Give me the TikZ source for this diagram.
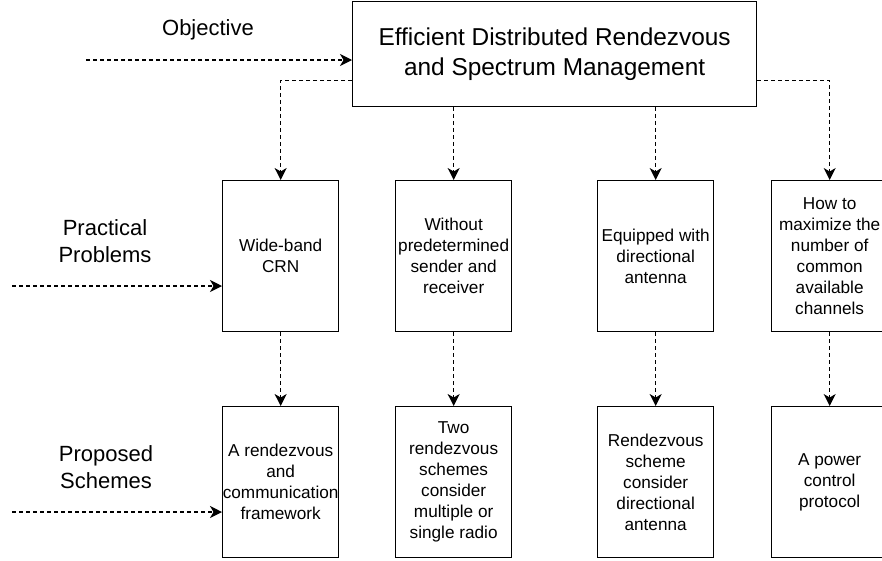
\documentclass[tikz,border=0pt]{standalone}
\usepackage{fontspec}
\setmainfont{Liberation Sans}
\usetikzlibrary{arrows.meta}
\begin{document}
\begin{tikzpicture}[x=1pt,y=-1pt,
  box/.style={draw=black, line width=1.3pt, minimum width=116pt, minimum height=151pt,
    inner sep=0pt, align=center, anchor=north west, font=\fontsize{17.2}{21}\selectfont},
  topbox/.style={draw=black, line width=1.3pt, minimum width=404pt, minimum height=105pt,
    inner sep=0pt, align=center, anchor=north west, font=\fontsize{24.4}{30}\selectfont},
  lab/.style={align=center, inner sep=0pt, font=\fontsize{22}{27}\selectfont},
  conn/.style={draw=black, line width=1.3pt, dash pattern=on 4pt off 3pt,
    -{Stealth[length=12pt,width=12pt,inset=3.5pt]}}
]
\useasboundingbox (0,0) rectangle (882,560);

% top box
\node[topbox] (top) at (352,0.6) {Efficient Distributed Rendezvous\\and Spectrum Management};

% row 2: practical problems
\node[box] (p1) at (222,180) {Wide-band\\CRN};
\node[box] (p2) at (395,180) {Without\\predetermined\\sender and\\receiver};
\node[box] (p3) at (597,180) {Equipped with\\directional\\antenna};
\node[box] (p4) at (771,180) {How to\\maximize the\\number of\\common\\available\\channels};

% row 3: proposed schemes
\node[box] (s1) at (222,406) {A rendezvous\\and\\communication\\framework};
\node[box] (s2) at (395,406) {Two\\rendezvous\\schemes\\consider\\multiple or\\single radio};
\node[box] (s3) at (597,406) {Rendezvous\\scheme\\consider\\directional\\antenna};
\node[box] (s4) at (771,406) {A power\\control\\protocol};

% side labels
\node[lab] (objl) at (208,30) {Objective};
\node[lab] (ppl) at (105,241) {Practical\\Problems};
\node[lab] (psl) at (106,467) {Proposed\\Schemes};

% input arrows
\coordinate (oin) at (86,60);
\coordinate (pin) at (12,286);
\coordinate (sin) at (12,512);
\draw[conn] (oin) -- (oin -| top.west);
\draw[conn] (pin) -- (pin -| p1.west);
\draw[conn] (sin) -- (sin -| s1.west);

% top to row 2
\draw[conn] ([yshift=-26.5pt]top.west) -| (p1.north);
\draw[conn] (top.south -| p2.north) -- (p2.north);
\draw[conn] (top.south -| p3.north) -- (p3.north);
\draw[conn] ([yshift=-26.5pt]top.east) -| (p4.north);

% row 2 to row 3
\draw[conn] (p1) -- (s1);
\draw[conn] (p2) -- (s2);
\draw[conn] (p3) -- (s3);
\draw[conn] (p4) -- (s4);
\end{tikzpicture}
\end{document}
